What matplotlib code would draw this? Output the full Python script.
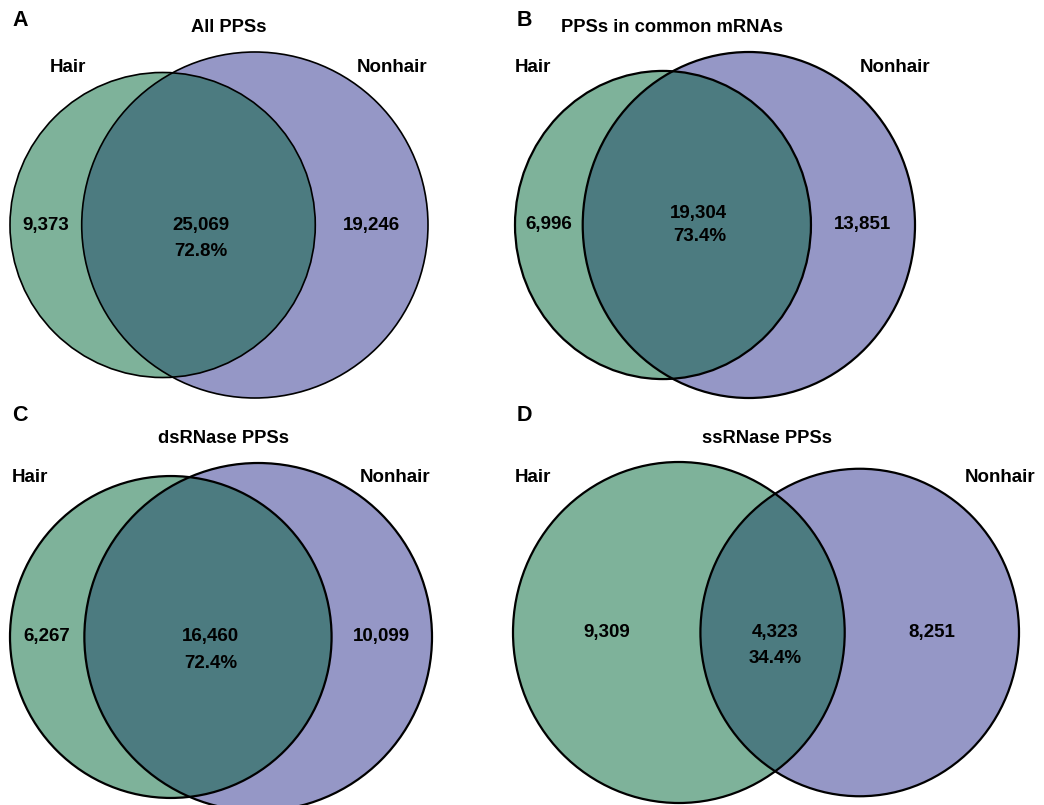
import numpy as np
import matplotlib
matplotlib.use("Agg")
import matplotlib.pyplot as plt
from matplotlib.patches import Circle

plt.rcParams['font.family'] = ['Liberation Sans', 'DejaVu Sans']
plt.rcParams['font.weight'] = 'bold'

W, H = 1044, 805

# region counts per panel: hair only, shared, nonhair only
panels = ["A", "B", "C", "D"]
titles = ["All PPSs", "PPSs in common mRNAs", "dsRNase PPSs", "ssRNase PPSs"]
hair_only = [9373, 6996, 6267, 9309]
shared = [25069, 19304, 16460, 4323]
nonhair_only = [19246, 13851, 10099, 8251]
set_names = ["Hair", "Nonhair"]

hair_col = "#7eb29a"
nonhair_col = "#9597c6"
shared_col = "#4c7b80"

# pixel boxes of the diagrams (left, top, right, bottom)
boxes = [(10, 52, 428, 398), (515, 52, 915, 398),
         (10, 463, 432, 811), (513, 462, 1019, 803)]
letter_pos = [(20, 20), (524, 20), (20, 415), (524, 415)]
title_pos = [(229, 28), (672, 28), (223, 438), (767, 438)]
hair_pos = [(68, 67), (533, 67), (30, 477), (533, 477)]
nonhair_pos = [(392, 67), (895, 67), (395, 477), (1000, 477)]
# vertical offsets (points) of the shared count and its percentage
shared_dy = [(0, -19), (8.6, -8.6), (0, -19), (0, -19)]


def lens_area(r1, r2, d):
    if d >= r1 + r2:
        return 0.0
    if d <= abs(r1 - r2):
        return np.pi * min(r1, r2) ** 2
    a1 = r1 ** 2 * np.arccos((d ** 2 + r1 ** 2 - r2 ** 2) / (2 * d * r1))
    a2 = r2 ** 2 * np.arccos((d ** 2 + r2 ** 2 - r1 ** 2) / (2 * d * r2))
    k = 0.5 * np.sqrt((-d + r1 + r2) * (d + r1 - r2) * (d - r1 + r2) * (d + r1 + r2))
    return a1 + a2 - k


def solve_distance(r1, r2, target):
    lo, hi = abs(r1 - r2), r1 + r2
    for _ in range(100):
        mid = 0.5 * (lo + hi)
        if lens_area(r1, r2, mid) > target:
            lo = mid
        else:
            hi = mid
    return 0.5 * (lo + hi)


def fig_xy(x, y):
    return x / W, 1 - y / H


fig = plt.figure(figsize=(W / 100, H / 100), dpi=100)

for i in range(4):
    a = hair_only[i] + shared[i]
    b = nonhair_only[i] + shared[i]
    r1 = np.sqrt(a / np.pi)
    r2 = np.sqrt(b / np.pi)
    d = solve_distance(r1, r2, shared[i])
    rmax = max(r1, r2)

    x0, y0, x1, y1 = boxes[i]
    ax = fig.add_axes([x0 / W, 1 - y1 / H, (x1 - x0) / W, (y1 - y0) / H])
    ax.set_xlim(-r1, d + r2)
    ax.set_ylim(-rmax, rmax)
    ax.axis("off")

    c1 = Circle((0, 0), r1, facecolor=hair_col, edgecolor="none")
    c2 = Circle((d, 0), r2, facecolor=nonhair_col, edgecolor="none")
    ax.add_patch(c1)
    ax.add_patch(c2)
    clip = Circle((d, 0), r2, transform=ax.transData, facecolor="none")
    ov = Circle((0, 0), r1, facecolor=shared_col, edgecolor="none")
    ax.add_patch(ov)
    ov.set_clip_path(clip)
    lw = 1.2 if i == 0 else 1.6
    ax.add_patch(Circle((0, 0), r1, facecolor="none", edgecolor="black", lw=lw, clip_on=False))
    ax.add_patch(Circle((d, 0), r2, facecolor="none", edgecolor="black", lw=lw, clip_on=False))

    # counts at the middle of each region along the centre line
    left_x = 0.5 * (-r1 + (d - r2))
    mid_x = 0.5 * ((d - r2) + r1)
    right_x = 0.5 * (r1 + (d + r2))
    pct = 100 * shared[i] / min(a, b)
    ax.text(left_x, 0, f"{hair_only[i]:,}", ha="center", va="center", fontsize=13.5)
    ax.text(right_x, 0, f"{nonhair_only[i]:,}", ha="center", va="center", fontsize=13.5)
    up, down = shared_dy[i]
    ax.annotate(f"{shared[i]:,}", (mid_x, 0), xytext=(1.5, up), textcoords="offset points",
                ha="center", va="center", fontsize=13.5)
    ax.annotate(f"{pct:.1f}%", (mid_x, 0), xytext=(2, down), textcoords="offset points",
                ha="center", va="center", fontsize=13.5)

    fig.text(*fig_xy(*letter_pos[i]), panels[i], ha="center", va="center", fontsize=15.5)
    fig.text(*fig_xy(*title_pos[i]), titles[i], ha="center", va="center", fontsize=13.2)
    fig.text(*fig_xy(*hair_pos[i]), set_names[0], ha="center", va="center", fontsize=13.5)
    fig.text(*fig_xy(*nonhair_pos[i]), set_names[1], ha="center", va="center", fontsize=13.5)

fig.savefig("out.png", dpi=100)
